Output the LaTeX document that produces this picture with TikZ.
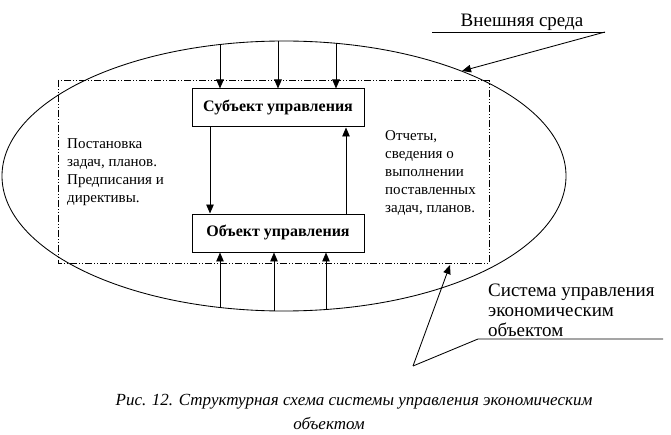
\documentclass[tikz,border=0pt]{standalone}
\usepackage{fontspec}
\setmainfont{Liberation Serif}
\usetikzlibrary{arrows.meta}

\begin{document}
\begin{tikzpicture}[x=1pt,y=-1pt,
    box/.style={draw,line width=0.035cm,minimum width=172pt,minimum height=38pt,inner sep=0pt,font=\fontsize{16}{18}\selectfont\bfseries},
    txt/.style={inner sep=0pt,align=left,anchor=north west,font=\fontsize{15}{18.2}\selectfont},
    lbl/.style={inner sep=0pt,align=left,anchor=north west,font=\fontsize{19}{20}\selectfont},
    captxt/.style={inner sep=0pt,font=\fontsize{17}{20}\selectfont\itshape},
    arr/.style={line width=0.03cm,-{Triangle[length=9pt,width=7.5pt]}},
    ln/.style={line width=0.03cm}]
    \useasboundingbox (0,0) rectangle (671,435);

    % Drawing ellipse of the environment
    \draw [ln] (284,176) ellipse [x radius=282pt, y radius=135pt];

    % Drawing border of the system (dash dot dot)
    \draw [ln, dash pattern=on 7pt off 2pt on 1pt off 2pt on 1pt off 2pt] (58,80) rectangle (489,263);

    % Marking boxes
    \node [box] (subj) at (278,108) {Субъект управления};
    \node [box] (obj) at (278,233) {Объект управления};

    % Drawing inputs from the environment
    \coordinate (t1) at (220,44.5);
    \coordinate (t2) at (278,41);
    \coordinate (t3) at (336,43.3);
    \foreach \p in {t1,t2,t3}
        \draw [arr] (\p) -- (\p |- subj.north);

    \coordinate (b1) at (220,307.5);
    \coordinate (b2) at (274,310.9);
    \coordinate (b3) at (326,309.5);
    \foreach \p in {b1,b2,b3}
        \draw [arr] (\p) -- (\p |- obj.south);

    % Drawing commands and reports
    \draw [arr] ([xshift=-68pt]subj.south) -- ([xshift=-68pt]obj.north);
    \draw [arr] ([xshift=68pt]obj.north) -- ([xshift=68pt]subj.south);

    % Marking texts
    \node [txt] (plan) at (67,138) {Постановка\\задач, планов.\\Предписания и\\директивы.};
    \node [txt] (rep) at (385,130) {Отчеты,\\сведения о\\выполнении\\поставленных\\задач, планов.};

    % Marking label of the environment
    \node [lbl,anchor=base] (env) at (522,27) {Внешняя среда};
    \coordinate (e1) at (432,32);
    \coordinate (e2) at (605,32);
    \coordinate (e3) at (462,71);
    \draw [ln] (e1) -- (e2);
    \draw [arr] (e2) -- (e3);

    % Marking label of the system
    \node [lbl] (sys) at (488,284) {Система управления\\экономическим\\объектом};
    \coordinate (s1) at (663,339);
    \coordinate (s2) at (478,339);
    \coordinate (s3) at (413,366);
    \coordinate (s4) at (450,265);
    \draw [ln] (s1) -- (s2) -- (s3);
    \draw [arr] (s3) -- (s4);

    % Marking caption
    \node [captxt] (cap1) at (354,402) {Рис. 12. Структурная схема системы управления экономическим};
    \node [captxt] (cap2) at (329,423) {объектом};
\end{tikzpicture}
\end{document}
